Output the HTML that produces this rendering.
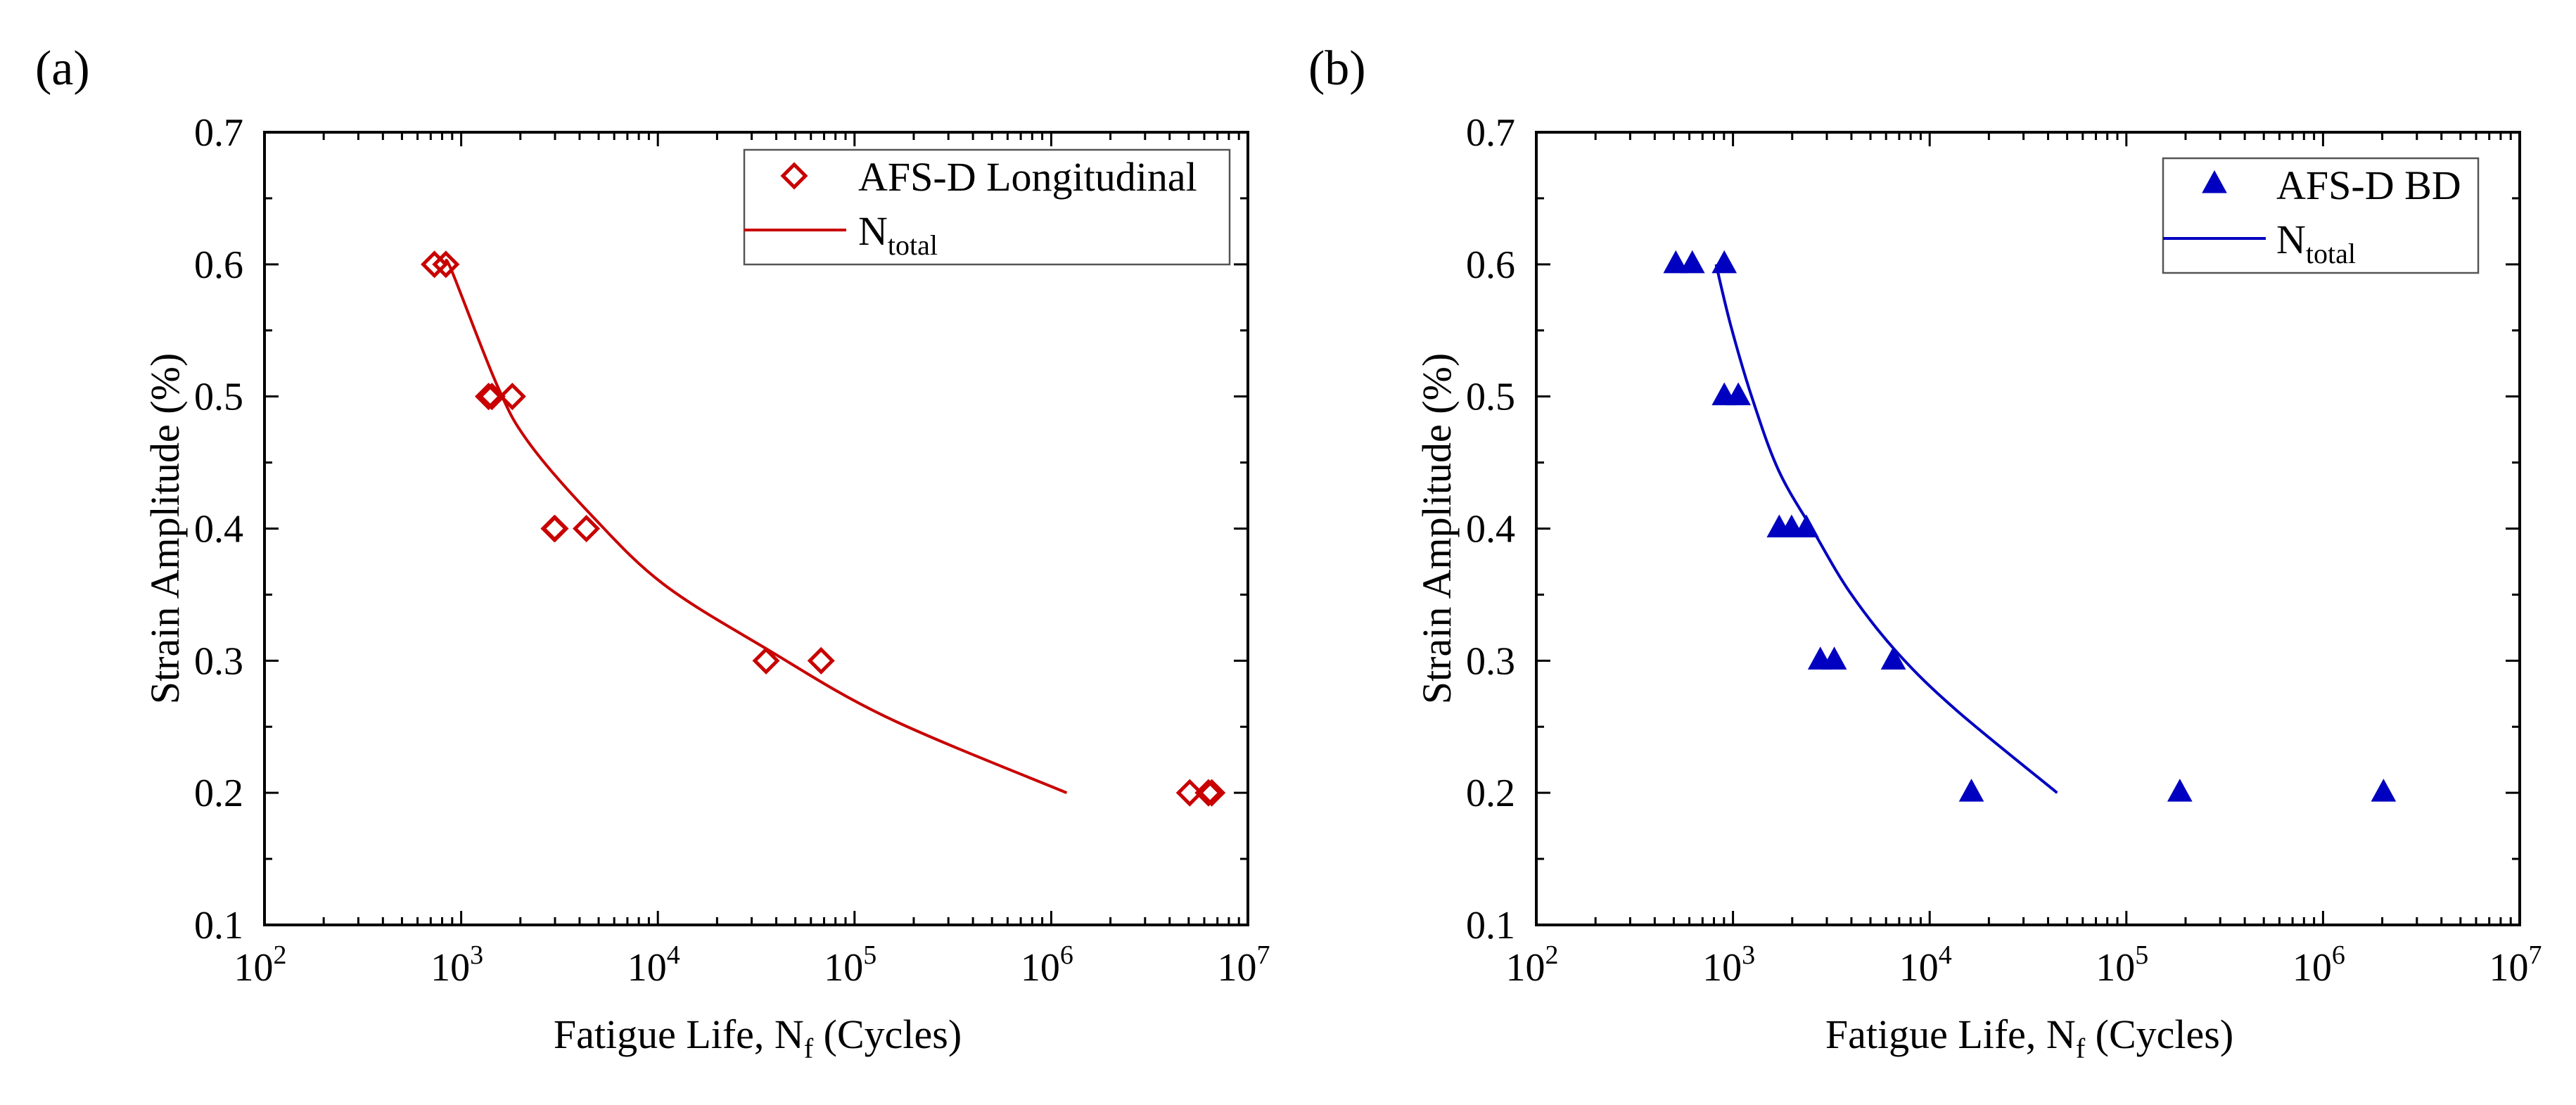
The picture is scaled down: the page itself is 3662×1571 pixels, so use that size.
<!DOCTYPE html>
<html><head><meta charset="utf-8"><style>
html,body{margin:0;padding:0;background:#fff;}
svg{display:block;font-family:"Liberation Serif",serif;}
</style></head><body>
<svg id="fig" width="3662" height="1571" viewBox="0 0 3662 1571" xmlns="http://www.w3.org/2000/svg"></svg>
<script>
// ---- data: panel (a) AFS-D Longitudinal ----
const aN = [731, 836, 1378, 1433, 1820, 2974, 3000, 4330, 35500, 67600, 5060000, 6300000, 6550000];
const aS = [0.6, 0.6, 0.5, 0.5, 0.5, 0.4, 0.4, 0.4, 0.3, 0.3, 0.2, 0.2, 0.2];
const aFitN = [840, 896, 1528, 2208, 4603, 10666, 35645, 146893, 1199000];
const aFitS = [0.6, 0.595, 0.508, 0.465, 0.410, 0.358, 0.309, 0.257, 0.2];
// ---- data: panel (b) AFS-D BD ----
const bN = [512, 621, 903, 903, 1064, 1718, 1986, 2361, 2780, 3273, 6535, 16300, 187000, 2030000];
const bS = [0.6, 0.6, 0.6, 0.5, 0.5, 0.4, 0.4, 0.4, 0.3, 0.3, 0.3, 0.2, 0.2, 0.2];
const bFitN = [820, 973, 1250, 1706, 2564, 3963, 6950, 13800, 44460];
const bFitS = [0.6, 0.554, 0.499, 0.444, 0.398, 0.351, 0.305, 0.262, 0.2];
// ---- axis ticks ----
const xExp = [2, 3, 4, 5, 6, 7];
const yTicks = [0.1, 0.2, 0.3, 0.4, 0.5, 0.6, 0.7];

const NS = "http://www.w3.org/2000/svg";
const svg = document.getElementById('fig');
function mk(tag, attrs, parent) {
  const e = document.createElementNS(NS, tag);
  for (const k in attrs) e.setAttribute(k, attrs[k]);
  (parent || svg).appendChild(e);
  return e;
}

function panel(cfg) {
  const g = mk('g', {});
  
  
  const L = cfg.left, R = cfg.left + 5 * 279.6, T = 188, B = 1315;
  const xs = n => L + (Math.log10(n) - 2) * (R - L) / 5;
  const ys = v => B - (v - 0.1) * (B - T) / 0.6;

  const pl = mk('text', {x: cfg.labX, y: 120, 'font-size': 70, fill: '#000'}, g);
  pl.textContent = cfg.label;
  
  

  const tg = mk('g', {stroke: '#000', 'stroke-width': 3}, g);
  
  
  for (let e = 2; e < 7; e++) {
    for (let m = 1; m < 10; m++) {
      const x = xs(m * Math.pow(10, e));
      const len = m === 1 ? 20 : 11;
      mk('line', {x1: x, y1: B, x2: x, y2: B - len}, tg);
      mk('line', {x1: x, y1: T, x2: x, y2: T + len}, tg);
    }
  }
  for (let v = 0.1; v <= 0.7001; v += 0.05) {
    const y = ys(v);
    const major = Math.abs(Math.round(v * 10) - v * 10) < 1e-6;
    const len = major ? 20 : 11;
    mk('line', {x1: L, y1: y, x2: L + len, y2: y}, tg);
    mk('line', {x1: R, y1: y, x2: R - len, y2: y}, tg);
  }
  const fr = mk('rect', {x: L, y: T, width: R - L, height: B - T, fill: 'none', stroke: '#000', 'stroke-width': 4}, g);
  
  

  xExp.forEach(e => {
    const t = mk('text', {x: xs(Math.pow(10, e)) - 6, y: 1394, 'font-size': 56, 'text-anchor': 'middle'}, g);
    
    
    t.appendChild(document.createTextNode('10'));
    const s = mk('tspan', {'font-size': 38, dy: -24}, t);
    s.textContent = e;
  });
  yTicks.forEach(v => {
    const t = mk('text', {x: L - 30, y: ys(v) + 19, 'font-size': 56, 'text-anchor': 'end'}, g);
    
    
    t.textContent = v.toFixed(1);
  });
  const yt = mk('text', {x: 0, y: 0, 'font-size': 58, 'text-anchor': 'middle', transform: `translate(${L - 122},${(T + B) / 2}) rotate(-90)`}, g);
  
  
  yt.textContent = 'Strain Amplitude (%)';
  const xt = mk('text', {x: (L + R) / 2 + 2, y: 1490, 'font-size': 58, 'text-anchor': 'middle'}, g);
  
  
  xt.appendChild(document.createTextNode('Fatigue Life, N'));
  const fs = mk('tspan', {'font-size': 40, dy: 14}, xt); fs.textContent = 'f';
  const rs = mk('tspan', {dy: -14}, xt); rs.textContent = ' (Cycles)';

  const P = cfg.fitN.map((n, i) => [xs(n), ys(cfg.fitS[i])]);
  let d = `M${P[0][0]},${P[0][1]}`;
  for (let i = 0; i < P.length - 1; i++) {
    const p0 = P[i - 1] || P[i], p1 = P[i], p2 = P[i + 1], p3 = P[i + 2] || P[i + 1];
    const c1 = [p1[0] + (p2[0] - p0[0]) / 6, p1[1] + (p2[1] - p0[1]) / 6];
    const c2 = [p2[0] - (p3[0] - p1[0]) / 6, p2[1] - (p3[1] - p1[1]) / 6];
    d += ` C${c1[0]},${c1[1]} ${c2[0]},${c2[1]} ${p2[0]},${p2[1]}`;
  }
  const fit = mk('path', {d: d, fill: 'none', stroke: cfg.color, 'stroke-width': 4}, g);
  
  

  function marker(x, y, parent) {
    if (cfg.marker === 'diamond') {
      return mk('path', {d: `M${x},${y - 16} L${x + 16},${y} L${x},${y + 16} L${x - 16},${y} Z`, fill: 'none', stroke: cfg.color, 'stroke-width': 5}, parent);
    }
    return mk('path', {d: `M${x},${y - 19} L${x + 17},${y + 12} L${x - 17},${y + 12} Z`, fill: cfg.color, stroke: cfg.color, 'stroke-width': 1}, parent);
  }
  cfg.N.forEach((n, i) => {
    const m = marker(xs(n), ys(cfg.S[i]), g);
    
    
  });

  const lg = mk('g', {}, g);
  
  
  const lb = cfg.leg;
  mk('rect', {x: lb.x, y: lb.y, width: lb.w, height: 163, fill: '#fff', stroke: '#555', 'stroke-width': 2.5}, lg);
  const lm = marker(lb.mx, lb.y + 37, lg);
  
  
  const l1 = mk('text', {x: lb.tx, y: lb.y + 58, 'font-size': 58}, lg);
  
  
  l1.textContent = cfg.series;
  mk('line', {x1: lb.x, y1: lb.y + 114, x2: lb.lx2, y2: lb.y + 114, stroke: cfg.color, 'stroke-width': 4}, lg);
  const l2 = mk('text', {x: lb.tx, y: lb.y + 135, 'font-size': 58}, lg);
  
  
  l2.appendChild(document.createTextNode('N'));
  const sub = mk('tspan', {'font-size': 40, dy: 14}, l2); sub.textContent = 'total';
}

panel({name: 'panel-a', left: 376, label: '(a)', labX: 50, color: '#c80000', marker: 'diamond',
  N: aN, S: aS, fitN: aFitN, fitS: aFitS, series: 'AFS-D Longitudinal',
  leg: {x: 1058, y: 213, w: 690, mx: 1129, tx: 1220, lx2: 1203}});
panel({name: 'panel-b', left: 2184, label: '(b)', labX: 1860, color: '#0000c0', marker: 'triangle',
  N: bN, S: bS, fitN: bFitN, fitS: bFitS, series: 'AFS-D BD',
  leg: {x: 3075, y: 225, w: 448, mx: 3148, tx: 3236, lx2: 3221}});
</script>
</body></html>
